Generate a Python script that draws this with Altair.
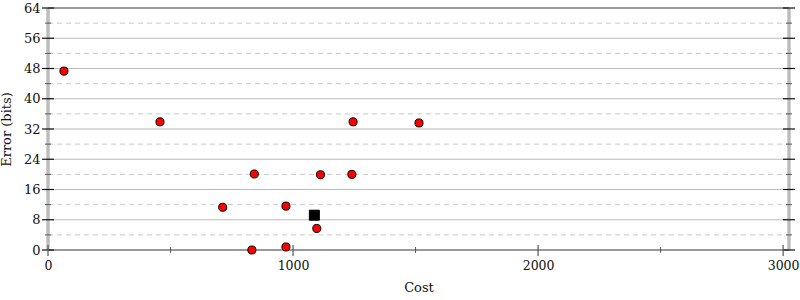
import altair as alt
import pandas as pd

# ---- data ----
cost = [65, 457, 713, 832, 842, 971, 971, 1097, 1112, 1240, 1245, 1514]
error = [47.3, 33.9, 11.3, 0.0, 20.1, 11.6, 0.8, 5.7, 19.9, 20.0, 33.9, 33.6]
best_cost = [1087]
best_error = [9.2]

x_major = [0, 1000, 2000, 3000]
x_minor = [500, 1500, 2500]
y_major = [0, 8, 16, 24, 32, 40, 48, 56, 64]
y_minor = [4, 12, 20, 28, 36, 44, 52, 60]
y_grid = [8, 16, 24, 32, 40, 48, 56]

W, H = 741, 242
FONT = "DejaVu Serif"

xs = alt.Scale(domain=[0, 3024], nice=False, zero=False)
ys = alt.Scale(domain=[0, 64], nice=False, zero=False)

XAXIS = alt.Axis(
    values=x_major, format="d", title="Cost", ticks=False, domain=False, grid=False,
    labelFont=FONT, labelFontSize=12.5, labelColor="#111111", labelPadding=9,
    titleFont=FONT, titleFontSize=13, titleFontWeight="normal", titleColor="#111111",
    titlePadding=10, labelFlush=False, labelOverlap=False)
YAXIS = alt.Axis(
    values=y_major, format="d", title="Error (bits)", ticks=False, domain=False, grid=False,
    labelFont=FONT, labelFontSize=13, labelColor="#111111", labelPadding=8,
    titleFont=FONT, titleFontSize=13, titleFontWeight="normal", titleColor="#111111",
    titlePadding=10, labelFlush=False, labelOverlap=False)

pts = pd.DataFrame({"cost": cost, "error": error})
best = pd.DataFrame({"cost": best_cost, "error": best_error})
df_ymaj = pd.DataFrame({"error": y_major})
df_ymin = pd.DataFrame({"error": y_minor})
df_ygrid = pd.DataFrame({"error": y_grid})
df_xmaj = pd.DataFrame({"cost": x_major})
df_xmin = pd.DataFrame({"cost": x_minor})


def Y():
    return alt.Y("error:Q", scale=ys, axis=YAXIS)


def X():
    return alt.X("cost:Q", scale=xs, axis=XAXIS)


grid_solid = alt.Chart(df_ygrid).mark_rule(color="#bbbbbb", strokeWidth=1).encode(
    y=Y(), x=alt.value(0), x2=alt.value(W)
)
grid_dash = alt.Chart(df_ymin).mark_rule(color="#c8c8c8", strokeWidth=1, strokeDash=[5, 4]).encode(
    y=Y(), x=alt.value(0), x2=alt.value(W)
)

# frame
left_line = alt.Chart(df_xmaj).mark_rule(color="#bbbbbb", strokeWidth=2.5).encode(
    x=alt.value(0), y=alt.value(0), y2=alt.value(H)
)
right_line = alt.Chart(df_xmaj).mark_rule(color="#bbbbbb", strokeWidth=2.5).encode(
    x=alt.value(W), y=alt.value(0), y2=alt.value(H)
)
top_line = alt.Chart(df_xmaj).mark_rule(color="#999999", strokeWidth=2).encode(
    y=alt.value(0), x=alt.value(0), x2=alt.value(W)
)
bottom_line = alt.Chart(df_xmaj).mark_rule(color="#999999", strokeWidth=2).encode(
    y=alt.value(H), x=alt.value(0), x2=alt.value(W)
)

# ticks
yt_major_l = alt.Chart(df_ymaj).mark_rule(color="#111111", strokeWidth=1.2).encode(
    y=Y(), x=alt.value(-6), x2=alt.value(6)
)
yt_major_r = alt.Chart(df_ymaj).mark_rule(color="#111111", strokeWidth=1.2).encode(
    y=Y(), x=alt.value(W - 6), x2=alt.value(W + 6)
)
yt_minor_l = alt.Chart(df_ymin).mark_rule(color="#555555", strokeWidth=1).encode(
    y=Y(), x=alt.value(-3), x2=alt.value(3)
)
yt_minor_r = alt.Chart(df_ymin).mark_rule(color="#555555", strokeWidth=1).encode(
    y=Y(), x=alt.value(W - 3), x2=alt.value(W + 3)
)
xt_major = alt.Chart(df_xmaj).mark_rule(color="#555555", strokeWidth=1.2).encode(
    x=X(), y=alt.value(H - 5), y2=alt.value(H + 6)
)
xt_minor = alt.Chart(df_xmin).mark_rule(color="#555555", strokeWidth=1).encode(
    x=X(), y=alt.value(H - 3), y2=alt.value(H + 3)
)

circles = alt.Chart(pts).mark_point(
    shape="circle", filled=True, fill="#ff0000", stroke="#000000", strokeWidth=1, size=65, opacity=1
).encode(x=X(), y=Y())
square = alt.Chart(best).mark_point(
    shape="square", filled=True, fill="#000000", stroke="#000000", strokeWidth=1, size=100, opacity=1
).encode(x=X(), y=Y())

chart = alt.layer(
    grid_solid, grid_dash, left_line, right_line, top_line, bottom_line,
    yt_minor_l, yt_minor_r, yt_major_l, yt_major_r, xt_minor, xt_major,
    circles, square,
).properties(
    width=W, height=H,
    autosize=alt.AutoSizeParams(type="none"),
    padding={"left": 48, "top": 8, "right": 11, "bottom": 50},
).configure_view(stroke=None).configure(background="white")

chart.save("out.html", embed_options={"renderer": "svg", "actions": False})
